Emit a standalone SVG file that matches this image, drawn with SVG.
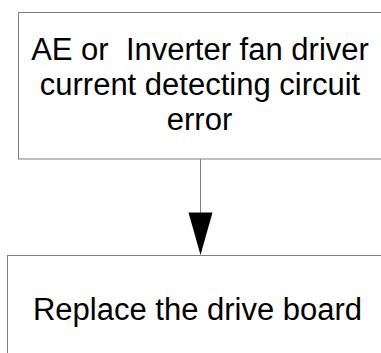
<svg xmlns="http://www.w3.org/2000/svg" width="381" height="353" viewBox="0 0 381 353">
<style>
.box{fill:#ffffff;stroke:#808080;stroke-width:1}
.lbl{font-family:"Liberation Sans",Arial,sans-serif;font-size:31px;fill:#000000;text-anchor:middle;white-space:pre}
.conn{stroke:#808080;stroke-width:1;fill:none}
</style>
<rect width="381" height="353" fill="#ffffff"/>
<g id="connectors">
<line class="conn" x1="200.5" y1="159" x2="200.5" y2="213"/>
<polygon points="188.5,212.5 212.5,212.5 200.5,255" fill="#000000"/>
</g>
<g id="node1">
<rect class="box" x="18.5" y="12.5" width="380" height="146.5"/>
<text class="lbl" xml:space="preserve" x="200" y="59.5">AE or  Inverter fan driver</text>
<text class="lbl" x="200" y="95">current detecting circuit</text>
<text class="lbl" x="199.5" y="130">error</text>
</g>
<g id="node2">
<rect class="box" x="7.5" y="255.5" width="390" height="120"/>
<text class="lbl" x="197.5" y="319.5">Replace the drive board</text>
</g>
</svg>
